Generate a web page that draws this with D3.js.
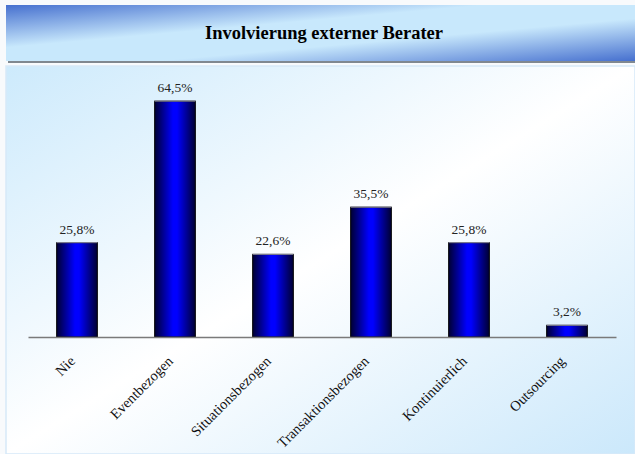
<!DOCTYPE html>
<html>
<head>
<meta charset="utf-8">
<script src="https://cdn.jsdelivr.net/npm/d3@7"></script>
<style>
  html, body { margin: 0; padding: 0; background: #ffffff; }
  svg { display: block; }
</style>
</head>
<body>
<div id="chart"></div>
<script>
// Survey result: how external consultants are involved
const categories = ["Nie", "Eventbezogen", "Situationsbezogen", "Transaktionsbezogen", "Kontinuierlich", "Outsourcing"];
const shares = [25.8, 64.5, 22.6, 35.5, 25.8, 3.2];
const valueLabels = ["25,8%", "64,5%", "22,6%", "35,5%", "25,8%", "3,2%"];
const chartTitle = "Involvierung externer Berater";

const W = 635, H = 454;
const serif = "'Liberation Serif', 'Times New Roman', Times, serif";
const svg = d3.select("#chart").append("svg")
  .attr("width", W).attr("height", H);

const defs = svg.append("defs");

// Header band: dark blue corners, pale blue middle
const hdrGrad = defs.append("linearGradient")
  .attr("id", "hdrGrad").attr("x1", 0).attr("y1", 0).attr("x2", 1).attr("y2", 1);
hdrGrad.append("stop").attr("offset", "0%").attr("stop-color", "#4670cf");
hdrGrad.append("stop").attr("offset", "38%").attr("stop-color", "#c8e8fc");
hdrGrad.append("stop").attr("offset", "62%").attr("stop-color", "#c8e8fc");
hdrGrad.append("stop").attr("offset", "100%").attr("stop-color", "#4670cf");

// Plot panel: pale blue corners fading to white
const panelGrad = defs.append("linearGradient")
  .attr("id", "panelGrad").attr("x1", 0).attr("y1", 0).attr("x2", 1).attr("y2", 1);
panelGrad.append("stop").attr("offset", "0%").attr("stop-color", "#cdeafc");
panelGrad.append("stop").attr("offset", "50%").attr("stop-color", "#ffffff");
panelGrad.append("stop").attr("offset", "100%").attr("stop-color", "#cbe8fb");

// Cylinder-like shading for bars
const barGrad = defs.append("linearGradient")
  .attr("id", "barGrad").attr("x1", 0).attr("y1", 0).attr("x2", 1).attr("y2", 0);
barGrad.append("stop").attr("offset", "0%").attr("stop-color", "#000033");
barGrad.append("stop").attr("offset", "45%").attr("stop-color", "#0000ff");
barGrad.append("stop").attr("offset", "55%").attr("stop-color", "#0000ff");
barGrad.append("stop").attr("offset", "100%").attr("stop-color", "#000033");

// Page background
svg.append("rect").attr("width", W).attr("height", H).attr("fill", "#f8fafc");

// Header with a small shadow
svg.append("rect").attr("x", 8).attr("y", 7).attr("width", 627).attr("height", 56)
  .attr("fill", "#808890");
svg.append("rect").attr("x", 6).attr("y", 5).attr("width", 629).attr("height", 56)
  .attr("fill", "url(#hdrGrad)");
svg.append("text")
  .attr("x", 324).attr("y", 39)
  .attr("text-anchor", "middle")
  .attr("font-family", serif)
  .attr("font-weight", "bold")
  .attr("font-size", 18.5)
  .attr("fill", "#000")
  .text(chartTitle);

// Plot panel
svg.append("rect").attr("x", 6).attr("y", 66).attr("width", 629).attr("height", 388)
  .attr("fill", "url(#panelGrad)")
  .attr("stroke", "#d6e9f8").attr("stroke-width", 1.5);

// Scales
const x = d3.scaleBand()
  .domain(categories)
  .range([28, 616])
  .paddingInner(0.585)
  .paddingOuter(0.2925);

const y = d3.scaleLinear()
  .domain([0, 70])
  .range([337, 81]);

const data = categories.map((c, i) => ({ cat: c, v: shares[i], label: valueLabels[i] }));

// Bars
svg.append("g").selectAll("rect")
  .data(data)
  .join("rect")
  .attr("x", d => x(d.cat))
  .attr("y", d => y(d.v))
  .attr("width", x.bandwidth())
  .attr("height", d => y(0) - y(d.v))
  .attr("fill", "url(#barGrad)")
  .attr("stroke", "#000")
  .attr("stroke-width", 1);

// Light rim at the top of each bar
svg.append("g").selectAll("line")
  .data(data)
  .join("line")
  .attr("x1", d => x(d.cat))
  .attr("x2", d => x(d.cat) + x.bandwidth())
  .attr("y1", d => y(d.v))
  .attr("y2", d => y(d.v))
  .attr("stroke", "#8a8aa0")
  .attr("stroke-width", 1);

// Baseline axis
const axis = svg.append("g")
  .attr("transform", `translate(0,${y(0)})`)
  .call(d3.axisBottom(x).tickSize(0).tickFormat(""));
axis.select(".domain").attr("stroke", "#7a7a7a").attr("stroke-width", 1.5);

// Value labels
svg.append("g").selectAll("text")
  .data(data)
  .join("text")
  .attr("x", d => x(d.cat) + x.bandwidth() / 2)
  .attr("y", d => y(d.v) - 9)
  .attr("text-anchor", "middle")
  .attr("font-family", serif)
  .attr("font-size", 13.5)
  .attr("fill", "#222")
  .text(d => d.label);

// Rotated category labels
svg.append("g").selectAll("text")
  .data(data)
  .join("text")
  .attr("transform", d => `translate(${x(d.cat) + x.bandwidth() / 2 - 1},${y(0) + 25}) rotate(-45)`)
  .attr("text-anchor", "end")
  .attr("font-family", serif)
  .attr("font-size", 14.5)
  .attr("fill", "#111")
  .text(d => d.cat);
</script>
</body>
</html>
